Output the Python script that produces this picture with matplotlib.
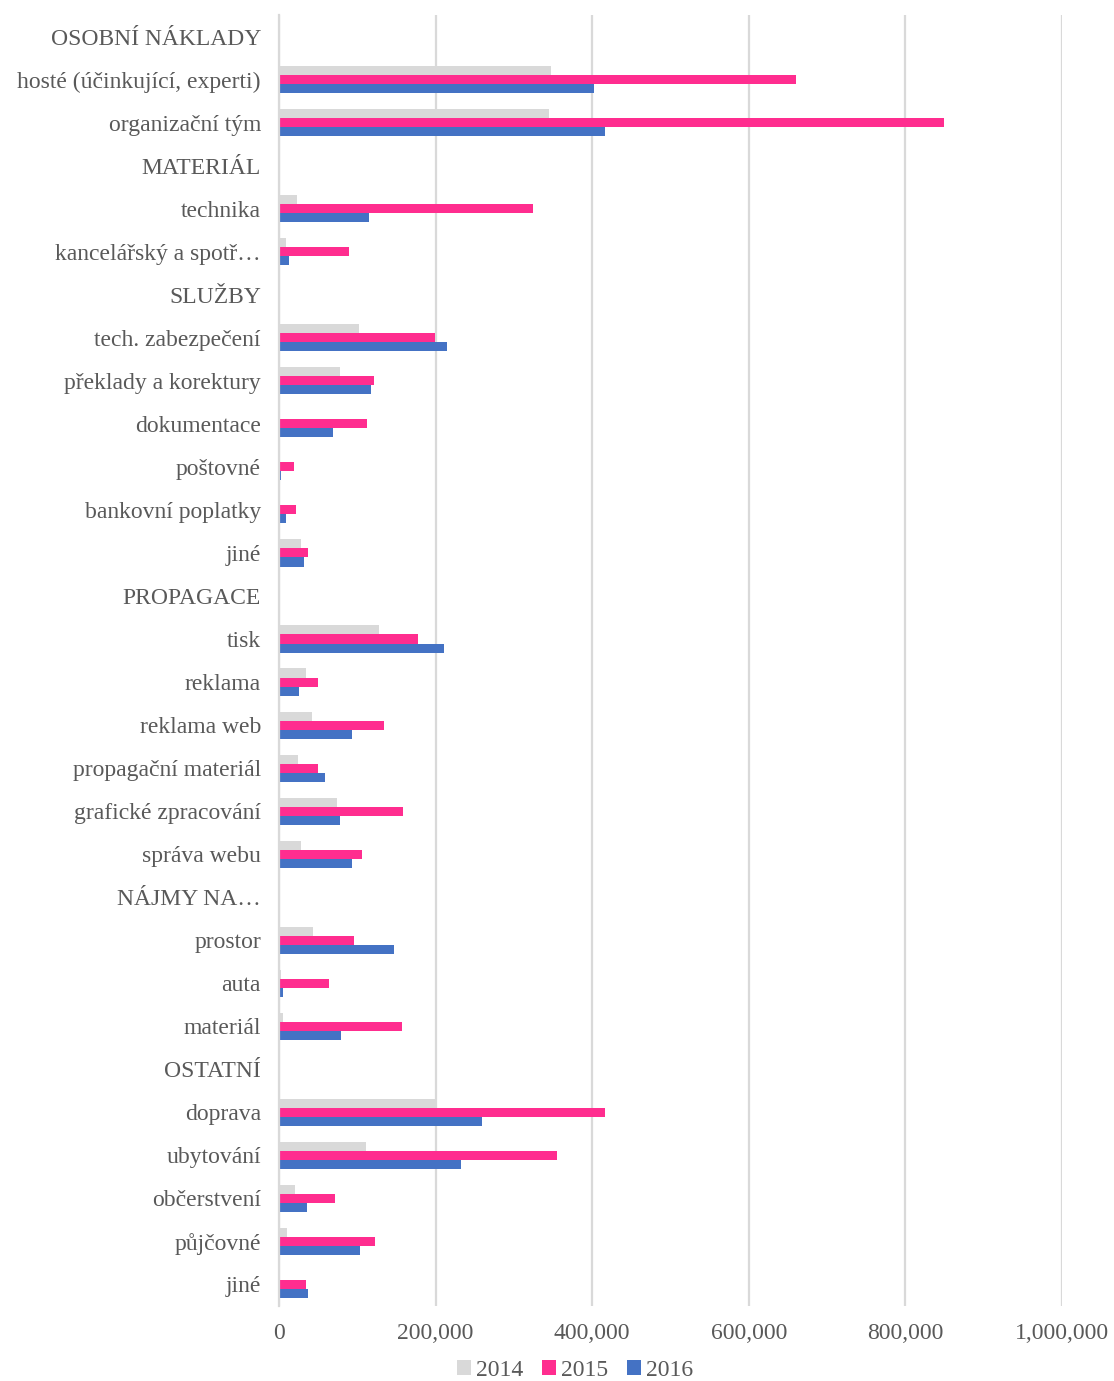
import matplotlib.pyplot as plt
import numpy as np

categories = ['OSOBNÍ NÁKLADY', 'hosté (účinkující, experti)', 'organizační tým',
              'MATERIÁL', 'technika', 'kancelářský a spotř…',
              'SLUŽBY', 'tech. zabezpečení', 'překlady a korektury', 'dokumentace',
              'poštovné', 'bankovní poplatky', 'jiné',
              'PROPAGACE', 'tisk', 'reklama', 'reklama web', 'propagační materiál',
              'grafické zpracování', 'správa webu',
              'NÁJMY NA…', 'prostor', 'auta', 'materiál',
              'OSTATNÍ', 'doprava', 'ubytování', 'občerstvení', 'půjčovné', 'jiné']

v2014 = [0, 348000, 345000, 0, 22600, 8500, 0, 102000, 78000, 0, 0, 0, 28000,
         0, 128000, 34000, 41800, 24000, 74000, 28000, 0, 43500, 2600, 5000,
         0, 200000, 111000, 20500, 10000, 0]
v2015 = [0, 660000, 849000, 0, 325000, 90000, 0, 199000, 122000, 113000, 19600, 22000, 36700,
         0, 178000, 49500, 134000, 49500, 158600, 105800, 0, 96000, 64000, 157000,
         0, 416600, 355600, 71600, 123000, 35000]
v2016 = [0, 402000, 416000, 0, 115000, 12800, 0, 214000, 118000, 69000, 2600, 8500, 31600,
         0, 211000, 25600, 93000, 59000, 77600, 93800, 0, 147500, 5000, 79000,
         0, 259000, 232000, 35800, 104000, 37500]

plt.rcParams['font.family'] = ['Liberation Serif', 'DejaVu Serif']

fig = plt.figure(figsize=(11.14, 13.81), dpi=100)
ax = fig.add_axes([0.2504, 0.0543, 0.7029, 0.9348])

y = np.arange(len(categories))
h = 0.21
ax.barh(y - h, v2014, height=h, color='#d9d9d9', label='2014')
ax.barh(y, v2015, height=h, color='#ff2d8f', label='2015')
ax.barh(y + h, v2016, height=h, color='#4472c4', label='2016')

ax.set_ylim(len(categories) - 0.5, -0.5)
ax.set_xlim(0, 1000000)
ax.set_xticks(np.arange(0, 1000001, 200000))
ax.set_xticklabels(['0', '200,000', '400,000', '600,000', '800,000', '1,000,000'])
ax.set_yticks(y)
ax.set_yticklabels(categories)
ax.tick_params(axis='both', length=0, labelsize=17, colors='#595959')
ax.tick_params(axis='y', pad=13)
ax.tick_params(axis='x', pad=12)
ax.grid(axis='x', color='#d9d9d9', linewidth=1.6)
ax.set_axisbelow(True)
for s in ['top', 'right', 'bottom']:
    ax.spines[s].set_visible(False)
ax.spines['left'].set_color('#d9d9d9')
ax.spines['left'].set_linewidth(1.6)

leg = ax.legend(loc='center', bbox_to_anchor=(0.378, -0.0496), ncol=3, frameon=False,
                fontsize=17, handlelength=0.6, handleheight=0.6, handletextpad=0.2,
                columnspacing=0.8, borderpad=0)
for t in leg.get_texts():
    t.set_color('#595959')

fig.savefig('out.png', dpi=100)
